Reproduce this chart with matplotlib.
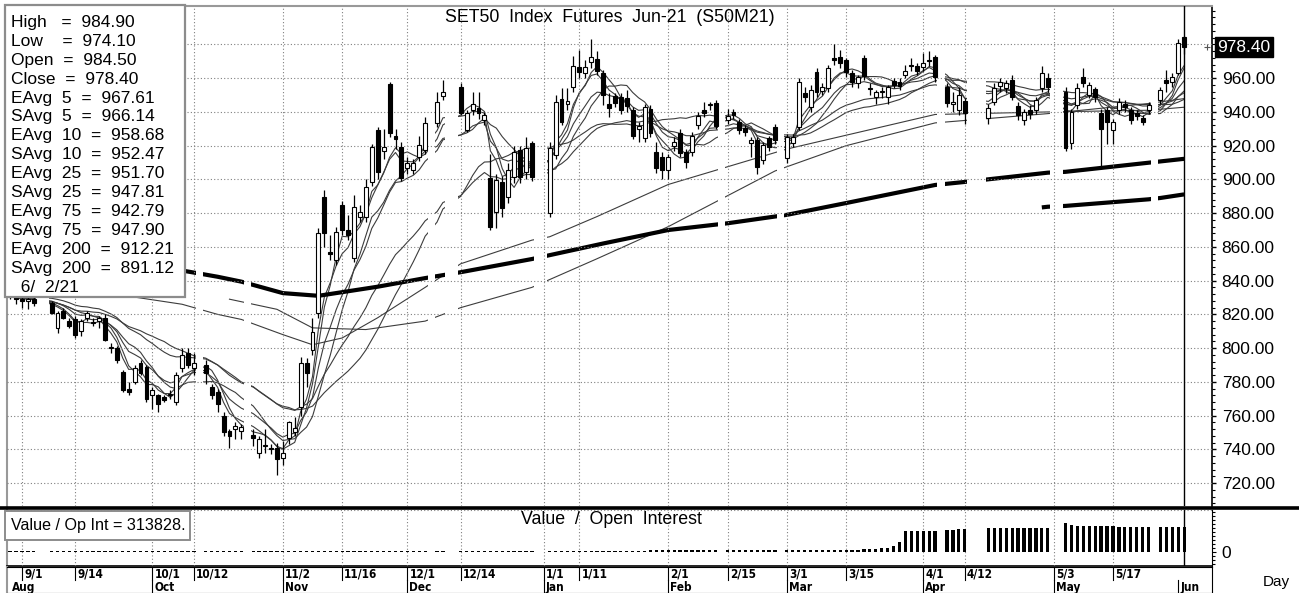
import numpy as np
import pandas as pd
import matplotlib
matplotlib.use("Agg")
import matplotlib.pyplot as plt
from matplotlib.patches import Rectangle
from matplotlib.lines import Line2D
from matplotlib.ticker import FixedLocator, MultipleLocator, FormatStrFormatter

plt.rcParams['font.family'] = ['Liberation Sans', 'DejaVu Sans']

# ---------------- calendar ----------------
first_day = "2020-08-28"
last_day = "2021-06-02"
axis_end = "2021-06-10"
holidays = ["2020-09-04", "2020-09-07", "2020-10-13", "2020-10-23", "2020-12-07",
            "2020-12-10", "2020-12-11", "2020-12-31", "2021-01-01", "2021-02-12",
            "2021-02-26", "2021-04-06", "2021-04-13", "2021-04-14", "2021-04-15",
            "2021-05-03", "2021-05-04", "2021-05-26"]

# ---------------- daily prices ----------------
opens = [
    834, 831,  # Aug
    829, 828, 829, 827, 812, 822, 816, 817, 810, 818, 815, 816, 818, 800, 800, 786, 776, 780, 791, 789,  # Sep
    772, 772, 771, 772, 768, 788, 797, 788, 790, 777, 774, 760, 751, 752, 751, 748.5, 738, 742, 740.5, 741,  # Oct
    735, 747, 750, 765, 791, 799, 821, 889.6, 856.5, 852, 885, 870, 853.4, 877.7, 877.7, 898.5, 929, 917, 956.5, 925.7, 919,  # Nov
    906.8, 905.6, 913.3, 917.5, 933.5, 949.5, 954.8, 929.3, 941, 942.4, 935, 901, 880.7, 898.5, 889.6, 901.4, 917.5, 904.4, 921.6,  # Dec
    880, 914.5, 947.7, 944.7, 954.8, 966.7, 963, 969.7, 971.4, 963, 944.7, 949.5, 949, 948, 941, 930, 924.6, 941.8, 916, 913.3,  # Jan
    905.6, 920, 927.5, 916.3, 916.3, 932.3, 941, 944, 945.3, 935.2, 940, 934, 930.5, 921.6, 923.4, 911.5, 924.6, 931,  # Feb
    912.7, 921.6, 931, 951.2, 943, 963.7, 952.4, 954, 972, 972.6, 970.8, 963, 957, 972, 953.6, 949, 952, 949, 958.4, 958,
    962, 968, 967.3,  # Mar
    966.7, 971, 972.6, 954.8, 945, 941, 946.5, 936.4, 946, 955.4, 954, 959, 943.5, 935.2, 941, 941, 954, 960,  # Apr
    951.8, 921.6, 944, 960.7, 950, 953.6, 939.4, 941, 929.3, 941, 945, 941, 939.5, 936.4, 941, 947, 959, 957.8,  # May
    963, 984.5,  # Jun
]
highs = [
    837, 834,
    831, 831, 833, 828, 822, 824, 818, 819, 817, 822, 818, 819, 820, 803, 801, 787, 780, 790, 793, 790,
    777, 773, 772, 775, 786, 800, 800, 797, 793, 779, 776, 762, 752, 756, 755, 752, 748, 752, 743, 744,
    745, 757, 759, 795, 794, 818, 871, 894, 867, 872, 887, 879, 891, 885, 900, 921, 931, 930, 958, 930, 922,
    913, 912, 926, 937, 952, 959, 957, 941, 952, 952, 940, 915, 903, 902, 910, 920, 920, 925, 923,
    922, 950, 954, 954, 973, 977, 971, 983, 976, 965, 951, 951, 951, 953, 943, 934, 945, 944, 922, 916,
    915, 925, 930, 918, 928, 940, 946, 946, 947, 942, 942, 936, 932, 925, 925, 922, 926, 933,
    927, 927, 960, 955, 956, 966, 957, 968, 980, 977, 972, 965, 962, 974, 957, 953, 955, 956, 960, 960,
    968, 972, 969,
    975, 976, 974, 957, 952, 955, 948, 945, 957, 960, 959, 962, 946, 942, 944, 949, 967, 963,
    955, 942, 957, 966, 958, 955, 942, 943, 936, 948, 947, 943, 941, 938, 946, 955, 965, 963,
    983, 984.9,
]
lows = [
    829, 826,
    824, 823, 825, 820, 809, 817, 812, 806, 807, 816, 813, 812, 804, 797, 791, 774, 772, 779, 784, 768,
    764, 762, 768, 770, 766, 786, 788, 784, 779, 770, 762, 748, 741, 746, 746, 742, 735, 738, 737, 725,
    731, 743, 748, 760, 777, 796, 818, 860, 852, 849, 867, 864, 851, 875, 875, 896, 900, 912, 925, 918, 899,
    903, 903, 911, 915, 931, 947, 938, 928, 938, 936, 932, 870, 871, 878, 886, 898, 898, 900, 899,
    878, 912, 932, 941, 952, 960, 960, 966, 962, 944, 937, 943, 939, 940, 924, 922, 922, 925, 904, 900,
    900, 917, 913, 907, 914, 930, 937, 941, 930, 933, 936, 927, 926, 913, 903, 909, 917, 921,
    910, 919, 929, 946, 940, 949, 950, 952, 968, 966, 961, 955, 954, 959, 950, 945, 948, 945, 954, 953,
    960, 964, 962,
    964, 967, 958, 943, 940, 938, 933, 933, 944, 952, 951, 947, 935, 932, 936, 939, 952, 952,
    917, 918, 942, 955, 948, 946, 907, 921, 921, 939, 940, 933, 935, 932, 939, 945, 952, 955,
    962, 974.1,
]
closes = [
    831, 829,
    828, 829, 827, 821, 821, 818, 813, 808, 816, 821, 815.5, 818, 805, 800.5, 793, 775, 774, 788, 785, 770,
    775, 767, 769, 773, 784, 796, 790, 791, 785, 772, 767, 750, 748, 754, 753, 746.7, 746, 742.5, 740, 734,
    738, 756, 752.6, 791, 785, 809.5, 868, 868, 856, 869, 870, 867, 883.6, 880.7, 895.5, 919, 904.4, 919, 927.5, 924, 901,
    910, 910, 920.4, 933.4, 946, 951.8, 939.4, 939.4, 945, 939.4, 938, 872, 899.7, 883, 905.6, 916, 901.4, 918.6, 901.4,
    918.6, 946, 934, 946.5, 967.3, 963.7, 966.7, 972.6, 964.3, 950, 942.4, 945.3, 941, 943.5, 926, 931.7, 943, 927.5, 907, 905.6,
    913, 922, 915.7, 910.3, 925.8, 937.6, 939.4, 944.2, 931.7, 937.6, 938, 929.3, 928, 923.4, 907.4, 920.4, 919.3, 923.4,
    925, 925, 957.8, 949, 953, 951.8, 954.8, 966, 970.8, 969, 963.7, 957.8, 960.7, 961.3, 953.8, 951.8, 952.3, 954.8, 956, 955.5,
    964.3, 967, 964.3,
    969, 970, 960.7, 945.3, 945.3, 950, 939.4, 942.4, 954, 957.8, 957, 949, 938, 940, 938.5, 947, 963, 954.8,
    918.6, 940, 954, 957, 956, 949, 930, 934, 934, 946, 943, 935.2, 937.6, 934, 944, 953, 957.2, 960.7,
    981, 978.4,
]

# value / open interest (lower panel)
open_interest = [
    9000, 9100,
    9100, 9200, 9200, 9300, 9300, 9400, 9400, 9500, 9500, 9600, 9600, 9700, 9700, 9800, 9800, 9900, 9900, 10000, 10000, 10100,
    10100, 10200, 10200, 10300, 10300, 10400, 10400, 10500, 10500, 10600, 10600, 10700, 10700, 10800, 10800, 10900, 10900, 11000, 11000, 11100,
    11100, 11200, 11300, 11400, 11500, 11600, 11700, 11800, 11900, 12000, 12100, 12200, 12300, 12400, 12500, 12600, 12700, 12800, 12900, 13000, 13100,
    13200, 13300, 13400, 13500, 13600, 13700, 13800, 13900, 14000, 14100, 14200, 14300, 14400, 14500, 14600, 14700, 14800, 14900, 15000,
    15500, 15700, 15900, 16100, 16300, 16500, 16700, 16900, 17100, 17300, 17500, 17700, 17900, 18100, 18300, 18500, 18700, 18900, 19100, 19300,
    19500, 19700, 19900, 20100, 20300, 20500, 20700, 20900, 21100, 21300, 21500, 21700, 21900, 22100, 22300, 22500, 22700, 22900,
    23100, 23300, 23500, 23700, 23900, 24100, 24300, 24500, 24700, 24900, 26000, 28000, 30000, 33000, 36000, 40000, 45000, 52000, 70000, 120000,
    262000, 265000, 266000,
    265000, 264000, 266000, 272000, 282000, 286000, 288000, 296000, 298000, 300000, 301000, 300000, 302000, 303000, 300000, 303000, 305000, 302000,
    362000, 335000, 330000, 328000, 330000, 329000, 331000, 327000, 324000, 318000, 318000, 317000, 319000, 316000, 318000, 315000, 316000, 314000,
    315000, 313828,
]

# long averages (date, value)
eavg200_dates = ["2020-08-28", "2020-09-21", "2020-10-08", "2020-10-16", "2020-10-22", "2020-11-02",
                 "2020-11-10", "2020-11-24", "2020-12-04", "2020-12-14", "2020-12-30", "2021-01-15",
                 "2021-02-01", "2021-02-15", "2021-03-01", "2021-03-15", "2021-04-05", "2021-04-12",
                 "2021-04-30", "2021-05-05", "2021-06-02"]
eavg200_vals = [852, 849, 846, 842.3, 839.4, 832.6, 831, 836.4, 841.5, 845, 852.8, 862,
                870, 874, 879, 886, 896.7, 898.5, 904, 904.5, 912.21]
savg200_dates = ["2021-04-29", "2021-04-30", "2021-05-05", "2021-05-25", "2021-05-27", "2021-06-02"]
savg200_vals = [883.4, 883.8, 884.3, 888.2, 889, 891.12]
eavg75_dates = ["2020-08-28", "2020-09-15", "2020-10-08", "2020-10-16", "2020-10-22", "2020-11-02",
                "2020-11-09", "2020-11-16", "2020-11-24", "2020-12-04", "2020-12-14", "2020-12-30",
                "2021-01-04", "2021-01-14", "2021-02-01", "2021-03-01", "2021-04-05", "2021-04-30",
                "2021-05-25", "2021-06-02"]
eavg75_vals = [840, 835, 826, 820, 817, 808, 802, 806, 818, 836, 850, 864, 866, 878, 897, 918,
               938.5, 940, 941, 942.79]
savg75_dates = ["2020-10-20", "2020-10-30", "2020-11-09", "2020-11-20", "2020-12-04", "2020-12-14",
                "2020-12-30", "2021-01-14", "2021-02-01", "2021-02-25", "2021-03-15", "2021-04-05",
                "2021-04-30", "2021-05-25", "2021-06-02"]
savg75_vals = [829, 823, 812, 811, 816, 824, 836, 853, 872, 905, 920, 933.5, 939, 945, 947.9]

# tick labels on the date strip
day_ticks = ["2020-09-01", "2020-09-14", "2020-10-01", "2020-10-12", "2020-11-02", "2020-11-16",
             "2020-12-01", "2020-12-14", "2021-01-01", "2021-01-11", "2021-02-01", "2021-02-15",
             "2021-03-01", "2021-03-15", "2021-04-01", "2021-04-12", "2021-05-03", "2021-05-17"]
day_labels = ["9/1", "9/14", "10/1", "10/12", "11/2", "11/16", "12/1", "12/14", "1/1", "1/11",
              "2/1", "2/15", "3/1", "3/15", "4/1", "4/12", "5/3", "5/17"]
month_ticks = ["2020-08-28", "2020-10-01", "2020-11-02", "2020-12-01", "2021-01-01", "2021-02-01",
               "2021-03-01", "2021-04-01", "2021-05-03", "2021-06-01"]
month_labels = ["Aug", "Oct", "Nov", "Dec", "Jan", "Feb", "Mar", "Apr", "May", "Jun"]

info_lines = ["High   =  984.90", "Low    =  974.10", "Open  =  984.50", "Close  =  978.40",
              "EAvg  5  =  967.61", "SAvg  5  =  966.14", "EAvg  10  =  958.68", "SAvg  10  =  952.47",
              "EAvg  25  =  951.70", "SAvg  25  =  947.81", "EAvg  75  =  942.79", "SAvg  75  =  947.90",
              "EAvg  200  =  912.21", "SAvg  200  =  891.12", "  6/  2/21"]

# ---------------- positions ----------------
weekdays = pd.bdate_range(first_day, axis_end)
wpos = {d: i for i, d in enumerate(weekdays)}
hol = set(pd.to_datetime(holidays))
trade_days = [d for d in pd.bdate_range(first_day, last_day) if d not in hol]
assert len(trade_days) == len(opens) == len(highs) == len(lows) == len(closes) == len(open_interest)
tp = np.array([wpos[d] for d in trade_days])


def to_pos(dates):
    return np.array([wpos[pd.Timestamp(d)] for d in dates])


W, H = 1299, 593
fig = plt.figure(figsize=(W / 100, H / 100), dpi=100)


def fx(px):
    return px / W


def fy(py):
    return 1 - py / H


x0, x1 = 7, 1212
ax = fig.add_axes([fx(x0), fy(506), fx(x1) - fx(x0), fy(6) - fy(506)])
ax2 = fig.add_axes([fx(x0), fy(566), fx(x1) - fx(x0), fy(510) - fy(566)])
ax3 = fig.add_axes([fx(x0), fy(593), fx(x1) - fx(x0), fy(567) - fy(593)])

xl = (-0.52, 202.7)
for a in (ax, ax2, ax3):
    a.set_xlim(*xl)
    a.set_xticks([])

grid_kw = dict(color='#808080', lw=0.8, ls=(0, (1, 2)), zorder=3)

# ---------------- main price panel ----------------
ax.set_ylim(706.4, 1002.8)
for v in range(720, 1000, 20):
    ax.axhline(v, **grid_kw)
for p in to_pos(day_ticks):
    ax.axvline(p, **grid_kw)

o, h, l, c = map(np.array, (opens, highs, lows, closes))
close_s = pd.Series(c, index=tp)
line_kw = dict(color='#3c3c3c', lw=0.8, zorder=2)
for n in (5, 10, 25):
    ax.plot(tp, close_s.ewm(span=n, adjust=False).mean().values, **line_kw)
    ax.plot(tp, close_s.rolling(n, min_periods=1).mean().values, **line_kw)
ax.plot(to_pos(eavg75_dates), eavg75_vals, **line_kw)
ax.plot(to_pos(savg75_dates), savg75_vals, **line_kw)
ax.plot(to_pos(eavg200_dates), eavg200_vals, color='black', lw=3.0, zorder=2, solid_capstyle='butt')
ax.plot(to_pos(savg200_dates), savg200_vals, color='black', lw=3.0, zorder=2, solid_capstyle='butt')

# holiday breaks in the average lines
for hd in sorted(hol):
    p = wpos[hd]
    ax.axvspan(p - 0.6, p + 0.6, color='white', lw=0, zorder=2.5)

up = c >= o
body_lo = np.minimum(o, c)
body_h = np.maximum(np.abs(c - o), 0.7)
ax.vlines(tp, l, h, color='black', lw=0.9, zorder=4)
ax.bar(tp[up], body_h[up], bottom=body_lo[up], width=0.66, color='white',
       edgecolor='black', lw=0.8, zorder=5)
ax.bar(tp[~up], body_h[~up], bottom=body_lo[~up], width=0.66, color='black',
       edgecolor='black', lw=0.8, zorder=5)

cursor = wpos[pd.Timestamp(last_day)]
ax.axvline(cursor, color='black', lw=1.0, zorder=6)

ax.yaxis.tick_right()
ax.yaxis.set_major_locator(FixedLocator(list(range(720, 961, 20))))
ax.yaxis.set_major_formatter(FormatStrFormatter('%.2f'))
ax.yaxis.set_minor_locator(MultipleLocator(4))
ax.tick_params(axis='y', which='major', length=3, width=1, pad=4, labelsize=12.5)
ax.tick_params(axis='y', which='minor', length=2, width=0.8)
ax.spines['left'].set_color('#999999')
ax.spines['top'].set_color('#999999')
ax.spines['left'].set_linewidth(1.5)
ax.spines['top'].set_linewidth(1.5)
ax.spines['right'].set_linewidth(1.2)
ax.spines['bottom'].set_visible(False)

ax.text(1.0045, 978.4, "978.40", transform=ax.get_yaxis_transform(), color='white',
        fontsize=12.5, va='center', ha='left',
        bbox=dict(boxstyle='square,pad=0.15', fc='black', ec='black'))
ax.plot([cursor + 3.8], [978.4], marker='+', color='#555555', ms=4, mew=0.8,
        clip_on=False, zorder=6)

fig.text(fx(610), fy(17), "SET50  Index  Futures  Jun-21  (S50M21)", ha='center',
         va='center', fontsize=12.8)

# info box
fig.add_artist(Rectangle((fx(5), fy(297)), fx(185) - fx(5), fy(5) - fy(297),
                         transform=fig.transFigure, fc='white', ec='#8c8c8c', lw=1.6, zorder=20))
for i, s in enumerate(info_lines):
    fig.text(fx(11), fy(22.5 + 18.9 * i), s, fontsize=12.5, va='center', ha='left', zorder=21)

# ---------------- lower panel ----------------
oi_top = 313828 / 25.0
ax2.set_ylim(-14 * oi_top, 42 * oi_top)
for p in to_pos(day_ticks):
    ax2.axvline(p, **grid_kw)
ax2.axhline(42 * oi_top - 1500, **grid_kw)
ax2.bar(tp, open_interest, width=0.55, color='black', lw=0, zorder=4)
ax2.axvline(cursor, color='black', lw=1.0, zorder=6)
ax2.yaxis.tick_right()
ax2.set_yticks([0])
ax2.set_yticklabels(["0"])
ax2.yaxis.set_minor_locator(MultipleLocator(4 * oi_top))
ax2.tick_params(axis='y', which='major', length=3, pad=4, labelsize=12.5)
ax2.tick_params(axis='y', which='minor', length=2, width=0.8)
ax2.spines['left'].set_color('#999999')
ax2.spines['left'].set_linewidth(1.5)
ax2.spines['top'].set_visible(False)
ax2.spines['bottom'].set_linewidth(1.2)
fig.text(fx(611), fy(519), "Value  /  Open  Interest", ha='center', va='center', fontsize=12.8)
fig.add_artist(Rectangle((fx(5), fy(540)), fx(190) - fx(5), fy(511) - fy(540),
                         transform=fig.transFigure, fc='white', ec='#8c8c8c', lw=1.4, zorder=20))
fig.text(fx(11), fy(525.5), "Value / Op Int = 313828.", fontsize=11.6, va='center',
         ha='left', zorder=21)

# panel separator
fig.add_artist(Line2D([0, 1], [fy(507.5), fy(507.5)], transform=fig.transFigure,
                      color='black', lw=2.6, zorder=15))

# ---------------- date strip ----------------
ax3.set_ylim(0, 1)
ax3.set_yticks([])
for sp in ('top', 'right', 'bottom'):
    ax3.spines[sp].set_color('black')
ax3.spines['left'].set_color('#999999')
ax3.spines['left'].set_linewidth(1.5)
date_font = dict(family=['Liberation Sans Narrow', 'DejaVu Sans'], fontsize=8.5,
                 fontweight='bold', fontstretch='condensed')
for p, s in zip(to_pos(day_ticks), day_labels):
    ax3.plot([p, p], [0.5, 1], color='black', lw=0.8)
    ax3.text(p + 0.35, 0.72, s, ha='left', va='center', **date_font)
for p, s in zip(to_pos(month_ticks), month_labels):
    if s != "Aug":
        ax3.plot([p, p], [0, 0.5], color='black', lw=0.8)
    ax3.text(p + 0.35, 0.22, s, ha='left', va='center', **date_font)
fig.text(fx(1276), fy(582), "Day", ha='center', va='center', fontsize=11)

fig.savefig("out.png", dpi=100)
